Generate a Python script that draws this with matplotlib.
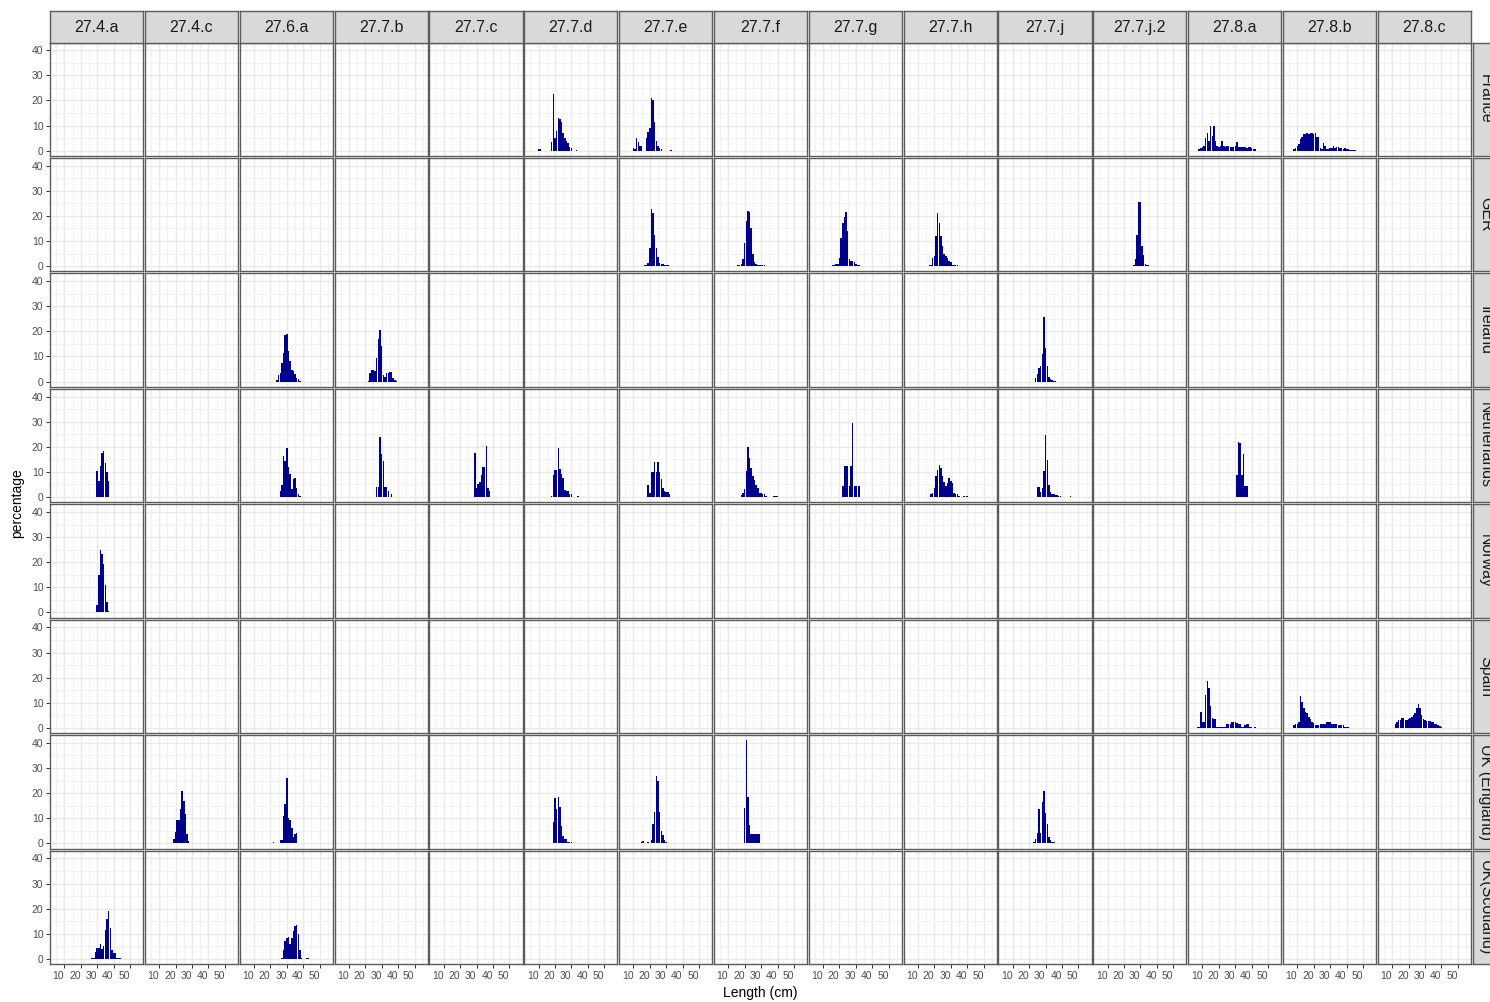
import numpy as np
import matplotlib
matplotlib.use("Agg")
import matplotlib.pyplot as plt

plt.rcParams['font.family'] = ['Liberation Sans', 'DejaVu Sans']

# facet levels
areas = ["27.4.a", "27.4.c", "27.6.a", "27.7.b", "27.7.c", "27.7.d", "27.7.e", "27.7.f",
         "27.7.g", "27.7.h", "27.7.j", "27.7.j.2", "27.8.a", "27.8.b", "27.8.c"]
countries = ["France", "GER", "Ireland", "Netherlands", "Norway", "Spain",
             "UK (England)", "UK(Scotland)"]

# length distributions per country: area -> (first length class, percentages per 1 cm)
france = {
    "27.7.d": (10, [0.8, 0.8, 0, 0, 0, 0, 0, 0, 3.5, 22.5, 5, 8, 13, 12.5, 11.5, 7, 5, 4, 3, 1.5, 1, 0, 0, 0.3]),
    "27.7.e": (10, [1, 0.5, 5, 3.5, 2, 2, 0, 0, 5, 7.5, 9, 21, 20, 11.5, 4, 2, 1, 0.5, 0, 0, 0, 0, 0, 0.3]),
    "27.8.a": (8, [0.8, 1, 1.5, 2, 5, 7, 4, 10, 6, 10, 4, 2, 1.5, 2, 4, 2, 1.5, 2, 2, 1.5,
                   1.5, 1.5, 2, 3.5, 1.5, 1.5, 1.5, 1.5, 1.5, 1, 1.5, 1.5, 1, 0.5, 0.5]),
    "27.8.b": (8, [0.5, 1, 2, 2.5, 4.5, 5.5, 6.5, 6.5, 7, 6.5, 7, 7, 6.5, 7, 5.5, 5.5, 1, 0.5, 3, 2,
                   0.5, 0.5, 1, 1, 2, 1, 1.5, 1.5, 1, 1, 0.5, 1, 0.5, 0.5, 0.3, 0.3, 0.3, 0.3]),
}
ger = {
    "27.7.e": (17, [0.4, 0.4, 1.3, 7, 22.7, 21, 12.5, 7, 3.5, 1.3, 1, 1, 0.5, 0.5, 0.4]),
    "27.7.f": (16, [0.4, 0.5, 1, 3, 9, 18, 22, 21.5, 15, 5, 1.5, 1, 0.5, 0.5, 0.5, 0.3, 0.3]),
    "27.7.g": (16, [0.4, 0.4, 0.7, 1, 3.3, 11, 17, 19.5, 21.4, 14, 3, 2, 2.2, 1.5, 0.7, 0.5, 0.4]),
    "27.7.h": (17, [0.3, 0.4, 3.3, 4, 12, 21, 17, 12, 8, 5, 4, 3.3, 2, 1.5, 0.5, 0.4, 0.3, 0.3]),
    "27.7.j.2": (26, [0.4, 3, 12.5, 25.7, 25.5, 8, 4.6, 1, 0.5, 0.4]),
}
ireland = {
    "27.6.a": (24, [0.7, 2.6, 3.3, 7.3, 11.2, 18.7, 19, 12, 8, 4.6, 4, 3, 1.3, 1, 0.4]),
    "27.7.b": (22, [0.4, 3.3, 4.6, 4.6, 4, 9.2, 16.8, 20.5, 14, 2.6, 2, 3.3, 3.3, 3.6, 3.6, 1.3, 0.5, 0.3]),
    "27.7.j": (24, [1.6, 3, 5.5, 6, 11, 25.8, 13.2, 6, 2, 1, 0.5, 0.3, 0.3]),
}
netherlands = {
    "27.4.a": (30, [10.4, 6.2, 12.5, 17.7, 18.3, 13.5, 10, 6.5]),
    "27.6.a": (26, [2.5, 4.9, 16.5, 14.4, 19.7, 12, 9, 3.3, 7.3, 7.5, 3.6, 1, 0.5]),
    "27.7.b": (27, [4.1, 4.1, 24, 17, 14.4, 4.1, 4.1, 2.2, 0, 1.2]),
    "27.7.c": (29, [17.4, 3.6, 5, 6, 8.8, 12, 12, 20.5, 3.6, 2.2]),
    "27.7.d": (18, [0.3, 8.6, 10.8, 10.8, 19.7, 11.2, 9, 7.5, 2.9, 2.2, 2.2, 1, 1, 0, 0, 0, 0.3]),
    "27.7.e": (19, [4.6, 1.6, 10, 10, 14, 10, 14, 10, 7, 3.6, 2.5, 2, 2, 1]),
    "27.7.f": (18, [0.7, 1.6, 3, 10.2, 20, 15.4, 11.5, 8.2, 6.9, 4.9, 3.6, 1.6, 1.6, 1, 1, 0.5,
                    0, 0, 0, 0, 0.5, 0.5, 0.5]),
    "27.7.g": (22, [4.2, 12.4, 12.4, 12.4, 4.2, 12.4, 29.3, 4.2, 4.2, 0, 4.2]),
    "27.7.h": (18, [1, 1.5, 3.6, 8.2, 10.8, 12.8, 11.5, 8.2, 6, 4.2, 5.5, 7.5, 6.5, 5.5, 1.6, 1, 1, 0.5,
                    0, 0, 0.4, 0, 0.4]),
    "27.7.j": (25, [4, 4, 2, 3.6, 10.2, 24.7, 14.8, 4.9, 2, 1, 1, 0.7, 0.7, 0.5, 0.5, 0, 0, 0, 0, 0, 0.4]),
    "27.8.a": (31, [8.6, 21.9, 21.5, 8.6, 17.3, 4.2, 4.2]),
}
norway = {
    "27.4.a": (30, [2.9, 14.8, 25, 23.4, 19.4, 10.8, 4.2, 0.7]),
}
spain = {
    "27.8.a": (7, [0.3, 0.3, 6.5, 2.2, 2.2, 13, 18.6, 16, 8.7, 4, 3.6, 3.6, 0.5, 0.3, 0.3, 0.3, 0.5, 0.5,
                   1.7, 1.7, 1.7, 2.2, 2.2, 2.2, 2, 1.5, 1.5, 0.5, 0.5, 1, 1.7, 1.7, 0.5, 0.3, 0, 0.3]),
    "27.8.b": (8, [1, 1.5, 1.5, 2.5, 12.8, 10.2, 8, 6.5, 5.8, 4.5, 3.6, 2.2, 2, 1.2, 1.2, 1.2, 1.5,
                   1.5, 1.5, 1.5, 2.2, 2.2, 2.2, 1.5, 1.5, 1.5, 1.5, 1.2, 1.2, 1.2, 1.2, 0.5, 0.5, 0.3]),
    "27.8.c": (12, [1.5, 2.2, 3.2, 3.2, 4, 4, 3.2, 3.2, 3.6, 4, 4.5, 5, 6, 8, 9.4, 8, 5, 3.6, 3,
                    2.9, 2.6, 2.6, 2.2, 2.2, 1.5, 1.5, 1, 0.6, 0.5]),
}
uk_england = {
    "27.4.c": (19, [1.7, 4.4, 9.2, 9.2, 13.6, 21, 16.9, 11.9, 3.7, 1, 0, 0, 0.3]),
    "27.6.a": (22, [0.5, 0, 0, 0, 1.3, 1.3, 11, 15.8, 26, 10, 9.2, 6.3, 2.4, 3.7, 4]),
    "27.7.d": (19, [8.7, 18, 13.6, 18.6, 14.3, 7, 3, 1.7, 1.7, 0.4, 0.4, 0.4]),
    "27.7.e": (15, [0.5, 0.9, 0.3, 0.3, 0.5, 0.3, 1.2, 7.8, 12.4, 26.7, 24.7, 12.5, 5.1, 3.3, 1.5, 0.5, 0.3, 0.3]),
    "27.7.f": (20, [14.1, 41, 18.3, 7.3, 3.6, 3.6, 3.6, 3.6, 3.6, 3.6]),
    "27.7.j": (23, [0.4, 1.9, 4, 13.5, 4, 16.4, 20.8, 12, 7.7, 2.6, 1.2, 0.4, 0.4]),
}
uk_scotland = {
    "27.4.a": (27, [0.3, 0.3, 2.9, 4.5, 4.5, 5.8, 3.8, 5.1, 11.4, 15.7, 19, 12.1, 3.4, 2.5, 2.5, 0.5, 0.5, 0.5]),
    "27.6.a": (27, [0.3, 3.4, 7.1, 8.4, 8.7, 5.8, 8.4, 11, 13, 13.3, 9.8, 3.4, 0.5, 0, 0, 0.5, 0.5]),
}
country_data = [france, ger, ireland, netherlands, norway, spain, uk_england, uk_scotland]

W, H = 1490, 1002
fig = plt.figure(figsize=(W / 100, H / 100), dpi=100)
fig.patch.set_facecolor('white')

# panel geometry in pixels
x_start, x_end = 50, 1471
y_start, y_end = 42.5, 964
gap_x, gap_y = 1.7, 2.2
pw = (x_end - x_start - gap_x * (len(areas) - 1)) / len(areas)
ph = (y_end - y_start - gap_y * (len(countries) - 1)) / len(countries)
strip = 31

border_col = '#5c5c5c'


def px_axes(x0, y0, w, h):
    return fig.add_axes([x0 / W, 1 - (y0 + h) / H, w / W, h / H])


for r, (country, data) in enumerate(zip(countries, country_data)):
    y0 = y_start + r * (ph + gap_y)
    for c, area in enumerate(areas):
        x0 = x_start + c * (pw + gap_x)
        ax = px_axes(x0, y0, pw, ph)
        ax.set_xlim(1.3, 58.0)
        ax.set_ylim(-2.05, 43.05)
        ax.set_xticks([10, 20, 30, 40, 50])
        ax.set_xticks([5, 15, 25, 35, 45, 55], minor=True)
        ax.set_yticks([0, 10, 20, 30, 40])
        ax.set_yticks([5, 15, 25, 35], minor=True)
        ax.grid(which='major', color='#EAEAEA', linewidth=1.0)
        ax.grid(which='minor', color='#F2F2F2', linewidth=0.7)
        ax.set_axisbelow(True)
        for s in ax.spines.values():
            s.set_color(border_col)
            s.set_linewidth(1.0)
        ax.tick_params(which='minor', length=0)
        ax.tick_params(which='major', length=3.2, width=0.7, color='#333333',
                       labelsize=7.5, labelcolor='#4D4D4D', pad=1.5,
                       left=(c == 0), labelleft=(c == 0),
                       bottom=(r == len(countries) - 1),
                       labelbottom=(r == len(countries) - 1))
        if r == len(countries) - 1:
            for lab in ax.get_xticklabels():
                lab.set_ha('right')

        if area in data:
            first, vals = data[area]
            lengths = np.arange(first, first + len(vals))
            ax.bar(lengths, vals, width=0.9, color='#00008B', linewidth=0)

        # top strips
        if r == 0:
            sax = px_axes(x0, y0 - strip, pw, strip)
            sax.set_facecolor('#D9D9D9')
            sax.set_xticks([])
            sax.set_yticks([])
            for s in sax.spines.values():
                s.set_color(border_col)
                s.set_linewidth(1.0)
            sax.text(0.5, 0.48, area, transform=sax.transAxes, ha='center', va='center',
                     fontsize=11.5, color='#1A1A1A')

    # right strips (cut by the figure edge, as in the original)
    sx = x_end + 2
    rax = px_axes(sx, y0, strip, ph)
    rax.set_facecolor('#D9D9D9')
    rax.set_xticks([])
    rax.set_yticks([])
    for s in rax.spines.values():
        s.set_color(border_col)
        s.set_linewidth(1.0)
    rax.text(0.40, 0.5, country, transform=rax.transAxes, ha='center', va='center',
             rotation=-90, fontsize=11.5, color='#1A1A1A')

fig.text((x_start + x_end) / 2 / W, 1 - 993 / H, 'Length (cm)', ha='center', va='center',
         fontsize=10, color='black')
fig.text(17 / W, 1 - 503 / H, 'percentage', ha='center', va='center', rotation=90,
         fontsize=10, color='black')

fig.savefig('out.png', dpi=100)
